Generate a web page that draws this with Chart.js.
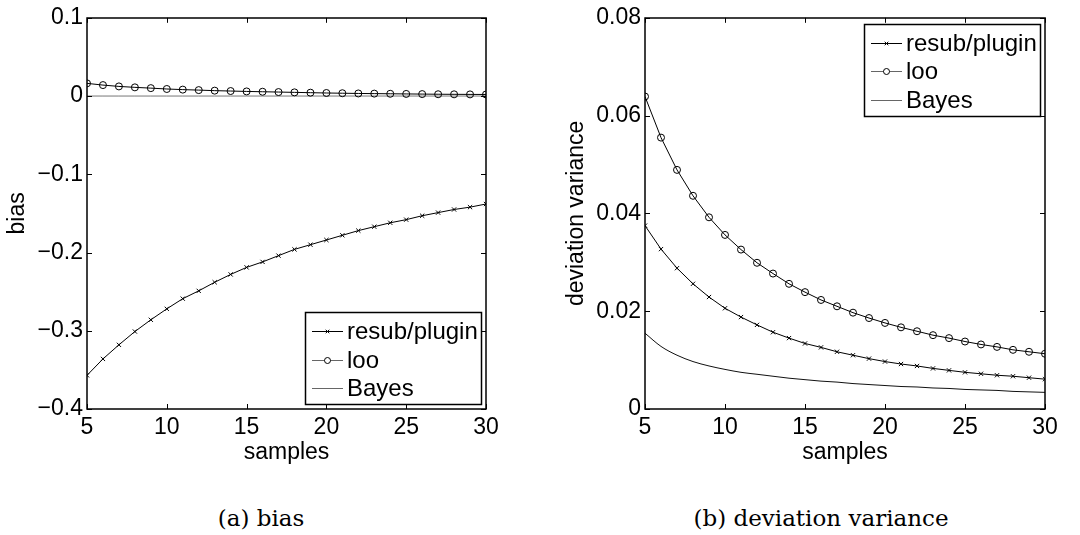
<!DOCTYPE html>
<html>
<head>
<meta charset="utf-8">
<script src="https://cdn.jsdelivr.net/npm/chart.js@4.4.0/dist/chart.umd.min.js"></script>
<style>
body { margin: 0; background: #fff; width: 1080px; height: 535px; overflow: hidden; position: relative; }
.plot { position: absolute; top: 0; width: 540px; height: 470px; }
#wrapA { left: 0; }
#wrapB { left: 540px; }
.cap { position: absolute; top: 505px; font-family: "DejaVu Serif", serif; font-size: 23px; line-height: 26px; white-space: nowrap; transform: translateX(-50%); color: #000; }
</style>
</head>
<body>
<div class="plot" id="wrapA"><canvas id="chartA" width="540" height="470"></canvas></div>
<div class="plot" id="wrapB"><canvas id="chartB" width="540" height="470"></canvas></div>
<div class="cap" style="left:261px">(a) bias</div>
<div class="cap" style="left:821px">(b) deviation variance</div>
<script>
// sample sizes
var samples = [5, 6, 7, 8, 9, 10, 11, 12, 13, 14, 15, 16, 17, 18, 19, 20, 21, 22, 23, 24, 25, 26, 27, 28, 29, 30];

// (a) bias
var biasResub = [-0.357, -0.336, -0.318, -0.301, -0.286, -0.272, -0.259, -0.249, -0.238, -0.228, -0.219, -0.212, -0.204,
	-0.196, -0.190, -0.184, -0.178, -0.172, -0.167, -0.162, -0.158, -0.153, -0.149, -0.145, -0.142, -0.138];
var biasLoo = [0.0162, 0.0140, 0.0123, 0.0111, 0.0101, 0.0090, 0.0082, 0.0076, 0.0069, 0.0064, 0.0059, 0.0055, 0.0051,
	0.0047, 0.0043, 0.0039, 0.0036, 0.0033, 0.0031, 0.0029, 0.0027, 0.0025, 0.0023, 0.0022, 0.0021, 0.0020];
var biasBayes = [0, 0, 0, 0, 0, 0, 0, 0, 0, 0, 0, 0, 0, 0, 0, 0, 0, 0, 0, 0, 0, 0, 0, 0, 0, 0];

// (b) deviation variance
var varResub = [0.0375, 0.0327, 0.0288, 0.0256, 0.0229, 0.0206, 0.0188, 0.0172, 0.0157, 0.0145, 0.0134, 0.0126, 0.0117,
	0.0110, 0.0103, 0.0097, 0.0092, 0.0088, 0.0083, 0.0079, 0.0075, 0.0072, 0.0069, 0.0067, 0.0064, 0.0061];
var varLoo = [0.0639, 0.0555, 0.0489, 0.0436, 0.0392, 0.0356, 0.0326, 0.0299, 0.0277, 0.0256, 0.0239, 0.0223, 0.0210,
	0.0197, 0.0186, 0.0176, 0.0167, 0.0159, 0.0151, 0.0145, 0.0138, 0.0132, 0.0127, 0.0121, 0.0117, 0.0113];
var varBayes = [0.0155, 0.0128, 0.0110, 0.0097, 0.0088, 0.0081, 0.0075, 0.0071, 0.0067, 0.0063, 0.0060, 0.0057, 0.0055,
	0.0052, 0.0050, 0.0048, 0.0046, 0.0045, 0.0043, 0.0042, 0.0040, 0.0039, 0.0038, 0.0036, 0.0035, 0.0034];

var seriesNames = ['resub/plugin', 'loo', 'Bayes'];
var xTicks = [5, 10, 15, 20, 25, 30];

var FONT = '"Liberation Sans", Arial, sans-serif';

function pts(ys) {
	return samples.map(function(s, i) { return {x: s, y: ys[i]}; });
}

function minusFmt(v, digits) {
	if (Math.abs(v) < 1e-9) return '0';
	return v.toFixed(digits).replace('-', '\u2212');
}

// box around plot area with inward tick marks on all four sides
var frameTicks = {
	id: 'frameTicks',
	afterDatasetsDraw: function(chart) {
		var ctx = chart.ctx, a = chart.chartArea, len = 5;
		var xs = chart.scales.x, ys = chart.scales.y;
		ctx.save();
		ctx.strokeStyle = '#000';
		ctx.lineWidth = 1;
		ctx.beginPath();
		xs.ticks.forEach(function(t) {
			var px = Math.round(xs.getPixelForValue(t.value)) + 0.5;
			ctx.moveTo(px, a.bottom); ctx.lineTo(px, a.bottom - len);
			ctx.moveTo(px, a.top); ctx.lineTo(px, a.top + len);
		});
		ys.ticks.forEach(function(t) {
			var py = Math.round(ys.getPixelForValue(t.value)) + 0.5;
			ctx.moveTo(a.left, py); ctx.lineTo(a.left + len, py);
			ctx.moveTo(a.right, py); ctx.lineTo(a.right - len, py);
		});
		ctx.stroke();
		ctx.lineWidth = 1.5;
		ctx.strokeRect(Math.round(a.left), Math.round(a.top), Math.round(a.right - a.left), Math.round(a.bottom - a.top));
		ctx.restore();
	}
};

// matlab style legend drawn inside the axes
var boxLegend = {
	id: 'boxLegend',
	afterDraw: function(chart, args, opts) {
		var ctx = chart.ctx, a = chart.chartArea;
		var w = opts.w, h = opts.h;
		var x0 = a.right - opts.dx - w;
		var y0 = opts.corner === 'br' ? a.bottom - opts.dy - h : a.top + opts.dy;
		ctx.save();
		ctx.fillStyle = '#fff';
		ctx.fillRect(x0, y0, w, h);
		ctx.strokeStyle = '#000';
		ctx.lineWidth = 1.5;
		ctx.strokeRect(Math.round(x0) + 0.5, Math.round(y0) + 0.5, w, h);
		ctx.font = '24px ' + FONT;
		ctx.textBaseline = 'middle';
		chart.data.datasets.forEach(function(ds, i) {
			var yy = Math.round(y0 + 19 + i * 28.5) + 0.5;
			ctx.strokeStyle = opts.lineColors[i];
			ctx.lineWidth = 1;
			ctx.beginPath();
			ctx.moveTo(x0 + 7, yy);
			ctx.lineTo(x0 + 38, yy);
			ctx.stroke();
			if (ds.pointRadius > 0) {
				ctx.fillStyle = '#fff';
				ctx.strokeStyle = '#000';
				Chart.helpers.drawPoint(ctx, {pointStyle: ds.pointStyle, radius: ds.pointStyle === 'circle' ? 3 : 2.5, rotation: 0, borderWidth: 1}, x0 + 22.5, yy);
			}
			ctx.fillStyle = '#000';
			ctx.fillText(ds.label, x0 + 42, yy + 1);
		});
		ctx.restore();
	}
};

function makeChart(id, data, yOpts, pad, yWidth, titlePad, legendOpts, bayesColor) {
	var sets = [
		{label: seriesNames[0], data: pts(data[0]), borderColor: '#000', borderWidth: 1, pointStyle: 'crossRot', pointRadius: 3, pointBorderWidth: 1, pointBorderColor: '#000', pointBackgroundColor: 'rgba(0,0,0,0)'},
		{label: seriesNames[1], data: pts(data[1]), borderColor: '#000', borderWidth: 1, pointStyle: 'circle', pointRadius: 3.5, pointBorderWidth: 1, pointBorderColor: '#000', pointBackgroundColor: 'rgba(0,0,0,0)'},
		{label: seriesNames[2], data: pts(data[2]), borderColor: bayesColor, borderWidth: 1, pointRadius: 0, cubicInterpolationMode: 'monotone'}
	];
	return new Chart(document.getElementById(id).getContext('2d'), {
		type: 'line',
		data: {datasets: sets},
		plugins: [frameTicks, boxLegend],
		options: {
			responsive: false,
			animation: false,
			events: [],
			layout: {padding: pad},
			elements: {line: {tension: 0}},
			plugins: {
				legend: {display: false},
				tooltip: {enabled: false},
				boxLegend: legendOpts
			},
			scales: {
				x: {
					type: 'linear', min: 5, max: 30,
					afterBuildTicks: function(s) { s.ticks = xTicks.map(function(v) { return {value: v}; }); },
					afterFit: function(s) { s.height = 61; },
					grid: {display: false, drawTicks: false}, border: {display: false},
					ticks: {color: '#000', padding: 5, font: {family: FONT, size: 23}, maxRotation: 0, callback: function(v) { return String(v); }},
					title: {display: true, text: 'samples', color: '#000', font: {family: FONT, size: 23}, padding: {top: 0, bottom: 4}}
				},
				y: {
					type: 'linear', min: yOpts.min, max: yOpts.max,
					afterBuildTicks: function(s) { s.ticks = yOpts.ticks.map(function(v) { return {value: v}; }); },
					afterFit: function(s) { s.width = yWidth; },
					grid: {display: false, drawTicks: false}, border: {display: false},
					ticks: {color: '#000', padding: 4, font: {family: FONT, size: 23}, callback: function(v) { return minusFmt(v, yOpts.digits); }},
					title: {display: true, text: yOpts.title, color: '#000', font: {family: FONT, size: 23}, padding: {top: titlePad, bottom: 0}}
				}
			}
		}
	});
}

var biasTicks = [-0.4, -0.3, -0.2, -0.1, 0, 0.1];
var varTicks = [0, 0.02, 0.04, 0.06, 0.08];

makeChart('chartA', [biasResub, biasLoo, biasBayes],
	{min: -0.4, max: 0.1, ticks: biasTicks, digits: 1, title: 'bias'},
	{left: 0, top: 17, right: 54, bottom: 0}, 87, 4,
	{corner: 'br', dx: 5, dy: 5, w: 176, h: 92, lineColors: ['#000', '#666', '#666']}, '#777');

makeChart('chartB', [varResub, varLoo, varBayes],
	{min: 0, max: 0.08, ticks: varTicks, digits: 2, title: 'deviation variance'},
	{left: 0, top: 16, right: 35, bottom: 0}, 105, 23,
	{corner: 'tr', dx: 5, dy: 6, w: 176, h: 92, lineColors: ['#000', '#666', '#666']}, '#111');
</script>
</body>
</html>
